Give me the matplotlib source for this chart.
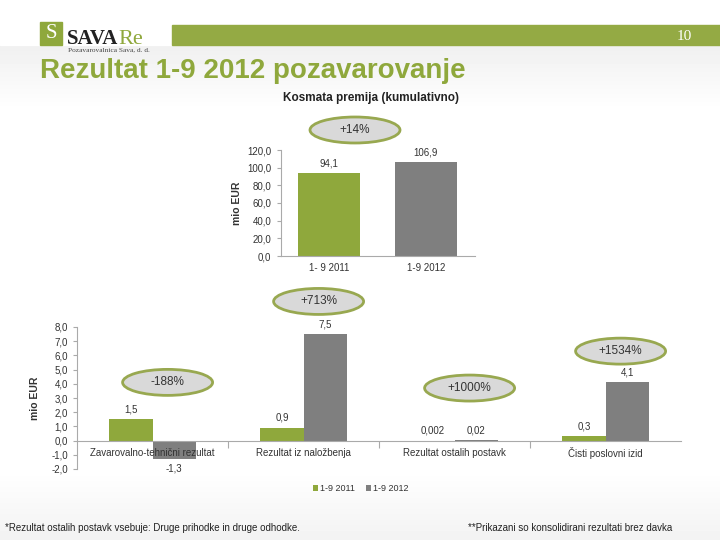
import numpy as np
import matplotlib
matplotlib.use("Agg")
from matplotlib import pyplot as plt
from matplotlib.patches import Ellipse, Rectangle

plt.rcParams["font.family"] = ["Liberation Sans", "DejaVu Sans"]

GREEN = "#8fa83c"
GRAY = "#7f7f7f"
TXT = "#333333"

# top chart: gross premium (cumulative)
premium_periods = ["1- 9 2011", "1-9 2012"]
premium_values = [94.1, 106.9]
premium_labels = ["94,1", "106,9"]
premium_change = "+14%"

# bottom chart: results
series = ["1-9 2011", "1-9 2012"]
categories = [
    "Zavarovalno-tehnični rezultat",
    "Rezultat iz naložbenja",
    "Rezultat ostalih postavk",
    "Čisti poslovni izid",
]
values_2011 = [1.5, 0.9, 0.002, 0.3]
values_2012 = [-1.3, 7.5, 0.02, 4.1]
labels_2011 = ["1,5", "0,9", "0,002", "0,3"]
labels_2012 = ["-1,3", "7,5", "0,02", "4,1"]
changes = ["-188%", "+713%", "+1000%", "+1534%"]
change_y = [4.1, 9.8, 3.7, 6.3]

W, H = 720, 540
fig = plt.figure(figsize=(7.2, 5.4), dpi=100)

# full-figure background layer in pixel coordinates
bg = fig.add_axes([0, 0, 1, 1], zorder=0)
bg.set_xlim(0, W)
bg.set_ylim(H, 0)
bg.axis("off")
grad = np.ones((H, 1))
for i in range(H):
    if 45 <= i < 110:
        grad[i] = 0.94 + 0.06 * (i - 45) / 65
    elif i >= 470:
        grad[i] = 1.0 - 0.05 * (i - 470) / 70
bg.imshow(grad, cmap="gray", vmin=0, vmax=1, extent=(0, W, H, 0), aspect="auto")
bg.add_patch(Rectangle((0, 0), W, 45, color="white", zorder=1))

# header
bg.add_patch(Rectangle((40, 22), 22, 23, color=GREEN, zorder=2))
bg.text(51, 34, "S", color="white", fontsize=15, family="Liberation Serif",
        ha="center", va="center", zorder=3)
sava = bg.text(67, 44, "SAVA", color="#222222", fontsize=15, family="Liberation Serif",
               fontweight="bold", va="baseline", zorder=3)
fig.canvas.draw()
ext = sava.get_window_extent()
bg.text(ext.x1, 44, "Re", color=GREEN, fontsize=16, family="Liberation Serif",
        va="baseline", zorder=3)
bg.text(68, 50, "Pozavarovalnica Sava, d. d.", color="#444444", fontsize=5.3,
        family="Liberation Serif", va="center", zorder=3)
bg.add_patch(Rectangle((172, 25), W - 172, 20, color="#94aa44", zorder=2))
bg.text(692, 36, "10", color="white", fontsize=11, family="Liberation Serif",
        ha="right", va="center", zorder=3)
bg.text(40, 71, "Rezultat 1-9 2012 pozavarovanje", color=GREEN, fontsize=20,
        fontweight="bold", va="center", zorder=3)


def bubble(x, y, text, w=90, h=26):
    bg.add_patch(Ellipse((x, y), w, h, facecolor="#d9d9d9", edgecolor="#98a850",
                         linewidth=2, zorder=4))
    bg.text(x, y, text, ha="center", va="center", fontsize=8.5, color=TXT, zorder=5)


# top chart
ax1 = fig.add_axes([280.5 / W, 1 - 256 / H, 194 / W, 106 / H], zorder=2)
ax1.patch.set_alpha(0)
x1 = np.arange(len(premium_values))
ax1.bar(x1, premium_values, width=0.64, color=[GREEN, GRAY])
for xi, v, lab in zip(x1, premium_values, premium_labels):
    ax1.text(xi, v + 5, lab, ha="center", va="bottom", fontsize=7, color=TXT)
ax1.set_xlim(-0.5, 1.5)
ax1.set_ylim(0, 120)
ax1.set_yticks(np.arange(0, 121, 20))
ax1.set_yticklabels([f"{t:.1f}".replace(".", ",") for t in np.arange(0, 121, 20)])
ax1.set_xticks(x1)
ax1.set_xticklabels(premium_periods)
ax1.tick_params(axis="both", labelsize=7, colors=TXT, length=3, color="#aaaaaa")
ax1.tick_params(axis="x", length=0, pad=5)
for s in ["top", "right"]:
    ax1.spines[s].set_visible(False)
for s in ["left", "bottom"]:
    ax1.spines[s].set_color("#aaaaaa")
ax1.set_ylabel("mio EUR", fontsize=7.5, fontweight="bold", color=TXT, labelpad=4)
fig.text(371 / W, 1 - 98 / H, "Kosmata premija (kumulativno)", ha="center",
         va="center", fontsize=8.5, fontweight="bold", color="#222222")
bubble(355, 130, premium_change)

# bottom chart
ax2 = fig.add_axes([77 / W, 1 - 469 / H, 604 / W, 142 / H], zorder=2)
ax2.patch.set_alpha(0)
x2 = np.arange(len(categories))
bw = 0.285
ax2.bar(x2 - bw / 2, values_2011, width=bw, color=GREEN, label=series[0])
ax2.bar(x2 + bw / 2, values_2012, width=bw, color=GRAY, label=series[1])
for xi, v, lab in zip(x2, values_2011, labels_2011):
    ax2.text(xi - bw / 2, max(v, 0) + 0.35, lab, ha="center", va="bottom",
             fontsize=7, color=TXT)
for xi, v, lab in zip(x2, values_2012, labels_2012):
    if v < 0:
        ax2.text(xi + bw / 2, v - 0.3, lab, ha="center", va="top", fontsize=7, color=TXT)
    else:
        ax2.text(xi + bw / 2, v + 0.35, lab, ha="center", va="bottom", fontsize=7, color=TXT)
for xi, cat in zip(x2, categories):
    ax2.text(xi, -0.9, cat, ha="center", va="center", fontsize=7, color=TXT)
ax2.set_xlim(-0.5, 3.5)
ax2.set_ylim(-2, 8)
yt = np.arange(-2, 9, 1.0)
ax2.set_yticks(yt)
ax2.set_yticklabels([f"{t:.1f}".replace(".", ",") for t in yt])
ax2.set_xticks(x2[:-1] + 0.5)
ax2.set_xticklabels([])
ax2.tick_params(axis="y", labelsize=7, colors=TXT, length=3, color="#aaaaaa")
ax2.tick_params(axis="x", length=5, color="#aaaaaa")
ax2.spines["bottom"].set_position(("data", 0))
ax2.spines["bottom"].set_color("#aaaaaa")
ax2.spines["left"].set_color("#aaaaaa")
for s in ["top", "right"]:
    ax2.spines[s].set_visible(False)
ax2.set_ylabel("mio EUR", fontsize=7.5, fontweight="bold", color=TXT, labelpad=8)
ax2.legend(loc="center", bbox_to_anchor=(0.47, -0.14), ncol=2, frameon=False,
           fontsize=6.5, handlelength=0.6, handleheight=0.6, handletextpad=0.2,
           columnspacing=1.2, labelcolor=TXT)

# change bubbles placed over each group
for xi, txt, yv in zip(x2, changes, change_y):
    px, py = ax2.transData.transform((xi + 0.1, yv))
    bubble(px, H - py, txt)

fig.text(5 / W, 1 - 528 / H,
         "*Rezultat ostalih postavk vsebuje: Druge prihodke in druge odhodke.",
         fontsize=7, color="#222222", va="center")
fig.text(468 / W, 1 - 528 / H,
         "**Prikazani so konsolidirani rezultati brez davka",
         fontsize=7, color="#222222", va="center")

fig.savefig("out.png", dpi=100)
